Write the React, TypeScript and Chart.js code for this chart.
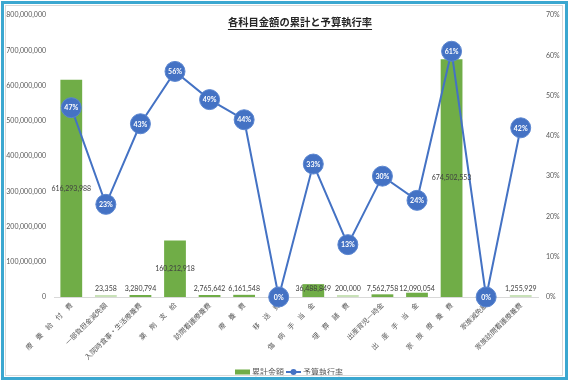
import React, { useEffect, useRef } from "react";
import { Chart, registerables } from "chart.js";

Chart.register(...registerables);

const categories: string[] = [
  "療　養　給　付　費",
  "一部負担金減免額",
  "入院時食事・生活療養費",
  "薬　剤　支　給",
  "訪問看護療養費",
  "療　養　費",
  "移　送　費",
  "傷　病　手　当　金",
  "埋　葬　諸　費",
  "出産育児一時金",
  "出　産　手　当　金",
  "家　族　療　養　費",
  "家族減免額",
  "家族訪問看護療養費",
];

const cumulativeAmounts: (number | null)[] = [
  616293988, 23358, 3280794, 160212918, 2765642, 6161548, null, 36488849, 200000, 7562758,
  12090054, 674502553, null, 1255929,
];

const executionRates: number[] = [47, 23, 43, 56, 49, 44, 0, 33, 13, 30, 24, 61, 0, 42];

const leftTicks = { min: 0, max: 800000000, step: 100000000 };
const rightTicks = { min: 0, max: 70, step: 10 };

const titleText = "各科目金額の累計と予算執行率";
const barLabel = "累計金額";
const lineLabel = "予算執行率";

const FONT = "Lato, 'Noto Sans CJK JP', sans-serif";
const JP_FONT = "'Noto Sans CJK JP', sans-serif";
const GREEN = "#70AD47";
const BLUE = "#4472C4";

const fmt = (v: number) => v.toLocaleString("en-US");

const overlayPlugin = {
  id: "overlay",
  afterDatasetsDraw(chart: any) {
    const ctx = chart.ctx;
    ctx.save();
    // bar labels
    const barMeta = chart.getDatasetMeta(0);
    ctx.font = `7px ${FONT}`;
    ctx.fillStyle = "#404040";
    ctx.textAlign = "center";
    ctx.textBaseline = "middle";
    barMeta.data.forEach((bar: any, i: number) => {
      const v = cumulativeAmounts[i];
      if (v === null || v === undefined) return;
      const center = (bar.y + bar.base) / 2;
      const y = Math.min(center, bar.base - 8);
      ctx.fillText(fmt(v), bar.x, y);
    });
    // point labels
    const lineMeta = chart.getDatasetMeta(1);
    ctx.font = `bold 7px ${FONT}`;
    ctx.fillStyle = "#FFFFFF";
    lineMeta.data.forEach((pt: any, i: number) => {
      ctx.fillText(`${executionRates[i]}%`, pt.x, pt.y + 0.5);
    });
    ctx.restore();
  },
  afterDraw(chart: any) {
    const ctx = chart.ctx;
    ctx.save();
    // title
    ctx.font = `bold 10.3px ${JP_FONT}`;
    ctx.fillStyle = "#262626";
    ctx.textAlign = "center";
    ctx.textBaseline = "middle";
    const tx = 300;
    const ty = 22;
    ctx.fillText(titleText, tx, ty);
    const w = ctx.measureText(titleText).width;
    ctx.strokeStyle = "#262626";
    ctx.lineWidth = 1;
    ctx.beginPath();
    ctx.moveTo(tx - w / 2, ty + 7.5);
    ctx.lineTo(tx + w / 2, ty + 7.5);
    ctx.stroke();

    // legend
    const ly = 372;
    ctx.font = `8px ${JP_FONT}`;
    ctx.textAlign = "left";
    ctx.fillStyle = GREEN;
    ctx.fillRect(235, ly - 2.5, 15, 5);
    ctx.fillStyle = "#595959";
    ctx.fillText(barLabel, 252, ly);
    ctx.strokeStyle = BLUE;
    ctx.lineWidth = 2;
    ctx.beginPath();
    ctx.moveTo(286, ly);
    ctx.lineTo(301, ly);
    ctx.stroke();
    ctx.fillStyle = BLUE;
    ctx.beginPath();
    ctx.arc(293.5, ly, 3, 0, Math.PI * 2);
    ctx.fill();
    ctx.fillStyle = "#595959";
    ctx.fillText(lineLabel, 303, ly);
    ctx.restore();
  },
};

export default function App() {
  const ref = useRef<HTMLCanvasElement | null>(null);

  useEffect(() => {
    if (!ref.current) return;
    const chart = new Chart(ref.current, {
      type: "bar",
      data: {
        labels: categories,
        datasets: [
          {
            type: "bar",
            label: barLabel,
            data: cumulativeAmounts as any,
            yAxisID: "y",
            order: 2,
            backgroundColor: (c: any) => {
              const v = cumulativeAmounts[c.dataIndex];
              return v !== null && v < 2000000 ? "#C9E2B8" : GREEN;
            },
            barPercentage: 0.63,
            categoryPercentage: 1,
            minBarLength: 2,
          },
          {
            type: "line",
            label: lineLabel,
            data: executionRates,
            yAxisID: "y1",
            order: 1,
            clip: false,
            borderColor: BLUE,
            borderWidth: 2,
            backgroundColor: BLUE,
            pointRadius: 10,
            pointBackgroundColor: BLUE,
            pointBorderColor: "#5B86D0",
            pointBorderWidth: 1,
            tension: 0,
          },
        ],
      },
      options: {
        responsive: false,
        animation: false,
        devicePixelRatio: 1,
        layout: { padding: { top: 15, left: 0, right: 0, bottom: 0 } },
        plugins: {
          legend: { display: false },
          title: { display: false },
          tooltip: { enabled: false },
        },
        scales: {
          x: {
            grid: { display: false, drawTicks: false },
            border: { display: true, color: "#D9D9D9", width: 1 },
            ticks: {
              autoSkip: false,
              minRotation: 45,
              maxRotation: 45,
              padding: 4,
              color: "#595959",
              font: { family: JP_FONT, size: 7 },
            },
            afterFit: (s: any) => {
              s.height = 84;
            },
          },
          y: {
            position: "left",
            min: leftTicks.min,
            max: leftTicks.max,
            grid: { display: false, drawTicks: false },
            border: { display: false },
            ticks: {
              stepSize: leftTicks.step,
              padding: 8,
              color: "#595959",
              font: { family: FONT, size: 7 },
              callback: (v: any) => fmt(Number(v)),
            },
            afterFit: (s: any) => {
              s.width = 54;
            },
          },
          y1: {
            position: "right",
            min: rightTicks.min,
            max: rightTicks.max,
            grid: { display: false, drawTicks: false },
            border: { display: false },
            ticks: {
              stepSize: rightTicks.step,
              padding: 8,
              color: "#595959",
              font: { family: FONT, size: 7 },
              callback: (v: any) => `${v}%`,
            },
            afterFit: (s: any) => {
              s.width = 31;
            },
          },
        },
      },
      plugins: [overlayPlugin],
    });
    return () => chart.destroy();
  }, []);

  return (
    <div
      style={{
        position: "fixed",
        left: 0,
        top: 0,
        width: 569,
        height: 381,
        background: "#ffffff",
        overflow: "hidden",
      }}
    >
      <canvas ref={ref} width={569} height={381} style={{ position: "absolute", left: 0, top: 0 }} />
      <div
        style={{
          position: "absolute",
          left: 1,
          top: 1,
          width: 567,
          height: 379,
          border: "3px solid #3BA7D0",
          boxSizing: "border-box",
          pointerEvents: "none",
        }}
      />
      <div
        style={{
          position: "absolute",
          left: 5,
          top: 5,
          width: 558,
          height: 371,
          border: "1px solid #D9D9D9",
          boxSizing: "border-box",
          pointerEvents: "none",
        }}
      />
    </div>
  );
}
